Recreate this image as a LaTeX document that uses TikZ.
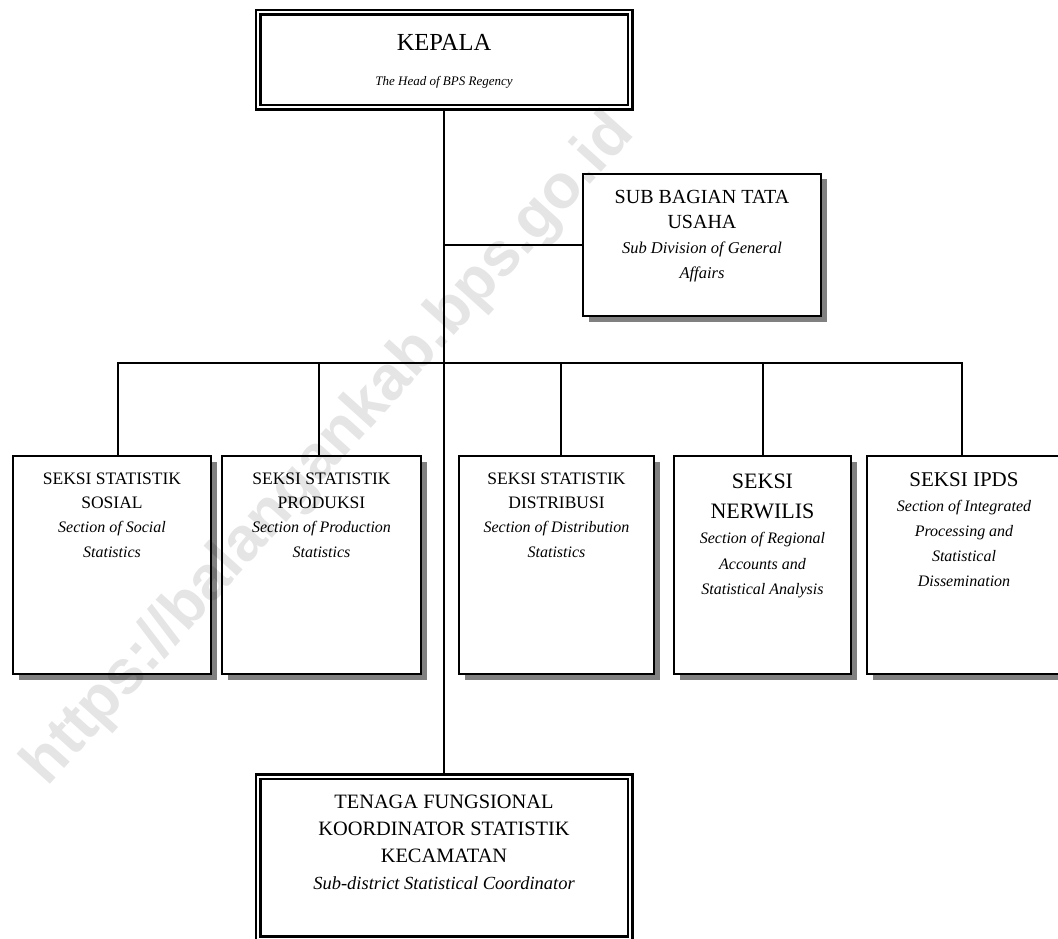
\documentclass[tikz,border=0pt]{standalone}
\usepackage{fontspec}
\setmainfont{Liberation Serif}
\setsansfont{Liberation Sans}
\usetikzlibrary{positioning,shadows}
\tikzset{head box/.style={draw,double,double distance=2pt,line width=2.5pt,minimum width=372pt,inner sep=0pt}}
\tikzset{sect box/.style={draw,line width=2pt,fill=white,minimum height=218pt,inner sep=0pt,drop shadow={shadow xshift=5.5pt,shadow yshift=-5.5pt,fill=black!50,opacity=1}}}
\tikzset{box text/.style={align=flush center,text width=300pt,inner sep=0pt}}
\tikzset{conn/.style={draw,line width=1.8pt}}
\newcommand{\eng}[2]{{\fontsize{#1}{\the\baselineskip}\selectfont\itshape\spaceskip=0pt\xspaceskip=0pt #2}}

\begin{document}
\begin{tikzpicture}[x=1pt,y=-1pt]
        \useasboundingbox (0,0) rectangle (1058,939);

        % head and sub division
        \node[head box,minimum height=95pt] (kepala) at (444,60) {};
        \node[box text,font=\fontsize{24.5}{35}\selectfont,below=22.5pt of kepala.north] (kepala-t) {KEPALA\\\eng{13}{The Head of BPS Regency}};
        \node[sect box,minimum width=238pt,minimum height=142pt] (tu) at (702,245) {};
        \node[box text,font=\fontsize{20}{25}\selectfont,below=17.4pt of tu.north] (tu-t) {SUB BAGIAN TATA\\USAHA\\\eng{16.5}{Sub Division of General\\Affairs}};

        % sections
        \node[sect box,minimum width=198pt] (sosial) at (112,565) {};
        \node[sect box,minimum width=199pt] (produksi) [right=9pt of sosial] {};
        \node[sect box,minimum width=195pt] (distribusi) [right=36pt of produksi] {};
        \node[sect box,minimum width=177pt] (nerwilis) [right=18pt of distribusi] {};
        \node[sect box,minimum width=194pt] (ipds) [right=14pt of nerwilis] {};

        \node[box text,font=\fontsize{17.5}{24.4}\selectfont,below=17.4pt of sosial.north] (sosial-t) {SEKSI STATISTIK\\SOSIAL\\\eng{16}{Section of Social\\Statistics}};
        \node[box text,font=\fontsize{17.5}{24.4}\selectfont,below=17.4pt of produksi.north] (produksi-t) {SEKSI STATISTIK\\PRODUKSI\\\eng{16}{Section of Production\\Statistics}};
        \node[box text,font=\fontsize{17.5}{24.4}\selectfont,below=17.4pt of distribusi.north] (distribusi-t) {SEKSI STATISTIK\\DISTRIBUSI\\\eng{16}{Section of Distribution\\Statistics}};
        \node[box text,font=\fontsize{22}{25.5}\selectfont,below=18.7pt of nerwilis.north] (nerwilis-t) {SEKSI\\[4.5pt]NERWILIS\\\eng{16}{Section of Regional\\Accounts and\\Statistical Analysis}};
        \node[box text,font=\fontsize{21}{25}\selectfont,below=17pt of ipds.north] (ipds-t) {SEKSI IPDS\\\eng{16}{Section of Integrated\\Processing and\\Statistical\\Dissemination}};

        % functional staff
        \node[head box,minimum height=162pt] (ksk) at (444,857.5) {};
        \node[box text,font=\fontsize{20.4}{27}\selectfont,below=19.5pt of ksk.north] (ksk-t) {TENAGA FUNGSIONAL\\KOORDINATOR STATISTIK\\KECAMATAN\\\eng{18.5}{Sub-district Statistical Coordinator}};

        \coordinate (bus) at (444,363);

        \path[conn]
        (kepala) -- (ksk)
        (tu.west) -- (tu.west -| kepala.south)
        ([xshift=6pt]sosial.north) |- (bus)
        ([xshift=-2.5pt]produksi.north) |- (bus)
        ([xshift=4.5pt]distribusi.north) |- (bus)
        ([xshift=0.5pt]nerwilis.north) |- (bus)
        ([xshift=-2pt]ipds.north) |- (bus);

        % watermark
        \node[rotate=48,text=black,text opacity=0.1,font=\fontsize{62}{62}\selectfont\sffamily\bfseries] (wm) at (330,450) {https://balangankab.bps.go.id};
    \end{tikzpicture}
\end{document}
